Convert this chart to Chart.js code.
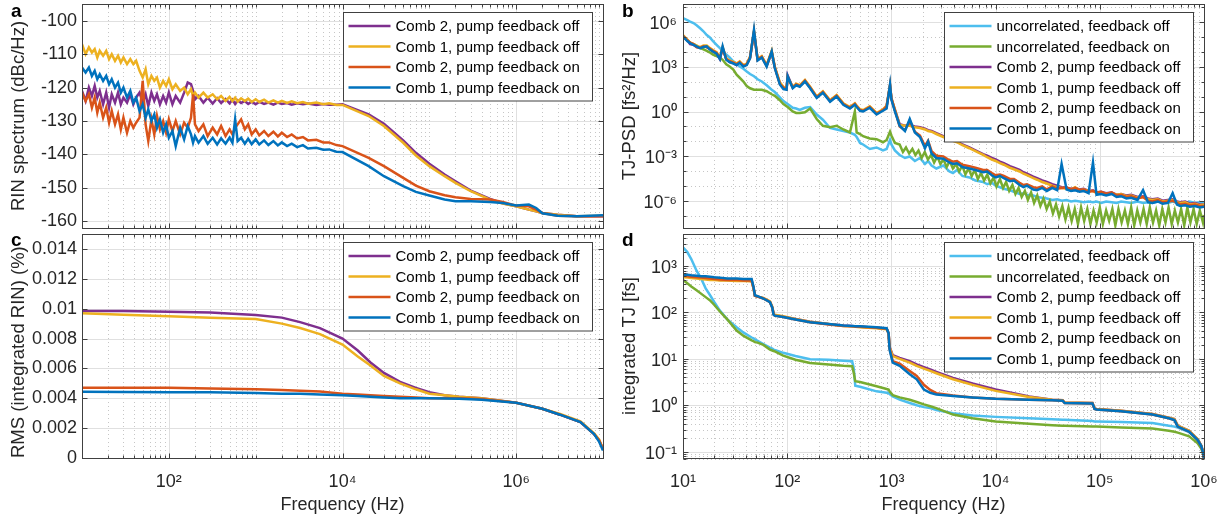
<!DOCTYPE html>
<html>
<head>
<meta charset="utf-8">
<title>RIN and timing jitter of the two combs</title>
<script src="https://cdn.jsdelivr.net/npm/chart.js@4.4.1/dist/chart.umd.min.js"></script>
<style>
    body { margin: 0; background: #fff; }
    #wrap { position: relative; width: 1231px; height: 521px; overflow: hidden; font-family: Helvetica, Arial, 'Liberation Sans', sans-serif; }
    #wrap canvas { position: absolute; }
    .tag { position: absolute; font-weight: bold; font-size: 19px; line-height: 1; color: #000; }
</style>
</head>
<body>
<div id="wrap">
    <canvas id="rinChart" width="615" height="232" style="left:0;top:0"></canvas>
    <canvas id="psdChart" width="616" height="232" style="left:615px;top:0"></canvas>
    <canvas id="rmsChart" width="615" height="291" style="left:0;top:230px"></canvas>
    <canvas id="tjChart" width="616" height="291" style="left:615px;top:230px"></canvas>
    <div class="tag" style="left:11px;top:1px">a</div>
    <div class="tag" style="left:622px;top:1px">b</div>
    <div class="tag" style="left:11px;top:230px">c</div>
    <div class="tag" style="left:622px;top:230px">d</div>
</div>
<script>
/* ================================================================
   DATA
   ================================================================ */

// a: RIN spectrum (dBc/Hz)
const freqA = [10, 11, 12, 13, 14, 15, 16, 17.5, 19, 20.5,
    22, 24, 26, 28, 30, 33, 36, 39, 42, 46,
    50, 54, 58, 63, 68, 73, 79, 86, 93, 100,
    110, 120, 135, 150, 165, 180, 190, 200, 220, 250,
    280, 320, 360, 400, 450, 500, 540, 580, 620, 680,
    750, 820, 900, 1000, 1100, 1250, 1400, 1600, 1800, 2000,
    2300, 2600, 3000, 3500, 4000, 5000, 6000, 7000, 8500, 1e4,
    2e4, 3e4, 5e4, 7e4, 1e5, 1.5e5, 2e5, 3e5, 5e5, 7e5,
    1e6, 1.4e6, 1.7e6, 2e6, 3e6, 5e6, 1e7];
const rinComb2Off = [-121, -124, -120, -122.5, -119.5, -123, -121, -125, -121.5, -126,
    -122, -124.5, -121.5, -125, -123, -124.5, -122, -125, -123, -121.5,
    -124.5, -122, -125.5, -121.5, -124, -122, -125, -122.5, -124.5, -121.5,
    -125, -122.5, -124.5, -121.5, -118.5, -119, -121, -123.5, -122.5, -124.5,
    -123, -124.8, -123.2, -124.6, -123.4, -124.7, -123.6, -124.9, -123.8, -124.6,
    -124, -124.9, -124.2, -125, -124.3, -124.9, -124.5, -125.1, -124.5, -124.9,
    -124.6, -125.1, -124.7, -125, -124.8, -125.2, -124.9, -125.1, -125.1, -125,
    -128, -130.8, -135.8, -139.5, -142.8, -146, -148, -150.8, -153.3, -154.6,
    -155.5, -156.5, -157, -157.5, -158, -158.5, -158.5];
const rinComb1Off = [-107, -110, -108, -109.5, -108.5, -111, -109, -110.5, -109, -111.5,
    -110, -112, -110.5, -112.5, -111, -113, -111.5, -113, -112, -115,
    -117, -114.5, -119, -116.5, -118, -117, -120, -118, -119.5, -117.5,
    -120.5, -119, -121, -120, -122, -120.5, -122.5, -121.5, -123, -121.5,
    -123, -122, -123.5, -122.5, -124, -122.8, -124, -123, -124.2, -123.2,
    -124, -123.3, -124.3, -123.5, -124.3, -123.6, -124.5, -123.8, -124.5, -124,
    -124.6, -124.1, -124.7, -124.3, -124.8, -124.5, -125, -124.7, -125.2, -125.2,
    -128.5, -131.5, -136.5, -140.3, -143.5, -146.5, -148.5, -151, -153.5, -154.7,
    -155.5, -156.5, -157, -157.5, -158, -158.5, -158.3];
const rinComb2On = [-121.5, -124, -122, -126, -123, -127.5, -124.5, -129, -126, -130.5,
    -127, -131, -128, -132.5, -129, -133.5, -130, -132, -130.5, -129,
    -118, -131, -136, -129.5, -134, -128.5, -132.5, -130, -133.5, -129.5,
    -133, -130, -134, -130.5, -132, -129, -122, -131, -133, -131,
    -134.5, -132, -134, -131.5, -134.5, -132.5, -134, -132, -131, -129.5,
    -132.5, -131, -134, -132.5, -134.3, -133, -134.5, -133.2, -134.6, -133.5,
    -134.8, -134, -135.2, -134.8, -135.8, -135.6, -136.4, -136.4, -137.2, -137.5,
    -141, -143.5, -147, -149.3, -151, -152.2, -152.8, -153.3, -153.5, -154.2,
    -155.3, -155.5, -156.5, -157.5, -158.3, -158.5, -158.5];
const rinComb1On = [-114, -115.5, -114, -116.5, -115, -117.5, -116, -118, -116.5, -119,
    -117.5, -120, -118.5, -121.5, -120, -123, -121, -124.5, -123, -127,
    -125, -129, -126.5, -130, -128, -132, -129.5, -133.5, -131, -135,
    -133, -137.5, -132, -135.5, -131.5, -134, -136.5, -134.5, -136.5, -134.5,
    -136.8, -135, -137, -135.2, -136.8, -135, -136.5, -129.5, -136, -135,
    -136.8, -135.3, -136.9, -135.5, -137, -135.8, -137.2, -136, -137.3, -136.4,
    -137.5, -136.8, -137.8, -137.2, -138.2, -138, -138.6, -138.5, -139.2, -139.3,
    -143.5, -146.5, -149.5, -151.2, -152.3, -153.5, -154, -154, -154.2, -154.5,
    -155.3, -155, -156, -157.6, -158.3, -158.5, -158.2];

// c: integrated RIN (%)
const freqC = [10, 30, 100, 300, 1000, 2000, 3250, 5500, 1e4, 1.5e4,
    2.1e4, 3e4, 4.6e4, 7e4, 1e5, 1.5e5, 2.2e5, 4e5, 1e6, 2e6,
    3.2e6, 5.5e6, 7.9e6, 9e6, 1e7];
const rmsComb2Off = [0.00985, 0.00985, 0.0098, 0.00975, 0.00958, 0.0094, 0.0091, 0.0087, 0.0080, 0.0072,
    0.0064, 0.0057, 0.0051, 0.0047, 0.0044, 0.0042, 0.0041, 0.0040, 0.0037, 0.0033,
    0.0029, 0.0024, 0.0016, 0.0012, 0.0006];
const rmsComb1Off = [0.0097, 0.0096, 0.0095, 0.0094, 0.0093, 0.0090, 0.0087, 0.0083, 0.0076, 0.0068,
    0.0062, 0.0055, 0.0050, 0.0046, 0.0043, 0.0042, 0.0041, 0.0040, 0.0037, 0.0033,
    0.00295, 0.00245, 0.00165, 0.00125, 0.0006];
const rmsComb2On = [0.0047, 0.0047, 0.0047, 0.00465, 0.0046, 0.00455, 0.0045, 0.00445, 0.0043, 0.00425,
    0.0042, 0.00415, 0.0041, 0.00405, 0.0040, 0.0040, 0.0040, 0.00395, 0.0037, 0.0033,
    0.0029, 0.0024, 0.0016, 0.0012, 0.0006];
const rmsComb1On = [0.00443, 0.00442, 0.0044, 0.0044, 0.00435, 0.0043, 0.0043, 0.00425, 0.0042, 0.00415,
    0.0041, 0.00405, 0.0040, 0.0040, 0.0040, 0.00398, 0.00396, 0.0039, 0.0037, 0.0033,
    0.0029, 0.0024, 0.0016, 0.0011, 0.0005];

// b: timing-jitter PSD, stored as log10 of fs^2/Hz
const freqBLow = [10, 11, 11.7, 12.6, 13.5, 14.6, 15.7, 16.9, 18, 19.4,
    21, 22.6, 24, 26, 28, 30.4, 32.7, 35, 38, 40.9,
    44, 48, 52, 57, 63.5, 71, 76, 85, 92, 98.6,
    101, 113, 122, 132, 148, 166, 192, 220, 258, 298,
    346, 400, 446, 464, 500, 535, 620, 720, 830, 900,
    970, 1000, 1080];
const freqBHigh = [1200, 1350, 1500, 1680, 1880, 2100, 2250, 2430, 2700, 3150,
    3600, 3900, 4260, 4800, 5600, 6400, 7600, 8300, 9200, 1e4,
    1.1e4, 1.2e4, 1.37e4, 1.5e4, 1.7e4, 1.85e4, 2e4, 2.3e4, 2.5e4, 2.8e4,
    3.1e4, 3.5e4, 3.9e4, 4.3e4, 4.8e4, 5.3e4, 5.8e4, 6.4e4, 7e4, 7.8e4,
    8.6e4, 9.3e4, 1.03e5, 1.15e5, 1.3e5, 1.45e5, 1.6e5, 1.8e5, 2e5, 2.3e5,
    2.6e5, 2.9e5, 3.2e5, 3.6e5, 4e5, 4.5e5, 5e5, 5.5e5, 5.9e5, 6.6e5,
    7.3e5, 8.2e5, 9.1e5, 1e6];
// the "uncorrelated, feedback on" trace is a wide noise band above 1 kHz: finer sampling there
const freqBDense = [1200, 1290, 1380, 1480, 1590, 1700, 1820, 1950, 2090, 2240,
    2400, 2570, 2760, 2950, 3160, 3390, 3630, 3890, 4170, 4470,
    4790, 5130, 5500, 5890, 6310, 6760, 7240, 7760, 8320, 8910,
    9550, 1.02e4, 1.1e4, 1.18e4, 1.26e4, 1.35e4, 1.45e4, 1.55e4, 1.66e4, 1.78e4,
    1.91e4, 2.04e4, 2.19e4, 2.34e4, 2.51e4, 2.69e4, 2.88e4, 3.09e4, 3.31e4, 3.55e4,
    3.8e4, 4.07e4, 4.37e4, 4.68e4, 5.01e4, 5.37e4, 5.75e4, 6.17e4, 6.61e4, 7.08e4,
    7.59e4, 8.13e4, 8.71e4, 9.33e4, 1e5, 1.07e5, 1.15e5, 1.23e5, 1.32e5, 1.41e5,
    1.51e5, 1.62e5, 1.74e5, 1.86e5, 2e5, 2.14e5, 2.29e5, 2.45e5, 2.63e5, 2.82e5,
    3.02e5, 3.24e5, 3.47e5, 3.72e5, 3.98e5, 4.27e5, 4.57e5, 4.9e5, 5.25e5, 5.62e5,
    6.03e5, 6.46e5, 6.92e5, 7.41e5, 7.94e5, 8.51e5, 9.12e5, 9.77e5, 1e6];
const freqB = freqBLow.concat(freqBHigh);
const freqBGreen = freqBLow.concat(freqBDense);

const psdUncorrOffLog = [6.22, 6.1, 6.0, 5.9, 5.75, 5.55, 5.35, 5.1, 4.95, 4.7,
    4.45, 4.22, 4.05, 3.8, 3.6, 3.35, 3.2, 3.0, 2.85, 2.67,
    2.5, 2.35, 2.15, 2.0, 1.75, 1.45, 1.3, 0.95, 0.7, 0.55,
    0.5, 0.25, 0.2, 0.1, 0.25, 0.3, -0.2, -0.55, -1.1, -1.2,
    -1.3, -1.4, -1.55, -1.7, -2.1, -2.2, -2.5, -2.4, -2.6, -2.5,
    -1.9, -2.2, -2.6,
    -2.9, -3.1, -3.0, -3.3, -3.1, -3.5, -3.3, -3.6, -3.8, -3.6,
    -4.0, -4.1, -3.9, -4.3, -4.4, -4.6, -4.7, -4.85, -4.75, -4.95,
    -5.05, -5.15, -5.25, -5.35, -5.5, -5.45, -5.55, -5.6, -5.7, -5.75,
    -5.8, -5.9, -5.85, -5.95, -5.9, -6.0, -5.95, -6.0, -6.05, -6.0,
    -6.05, -6.0, -6.1, -6.0, -6.05, -6.1, -6.0, -6.05, -6.1, -6.0,
    -6.1, -6.05, -6.1, -6.0, -6.05, -6.1, -6.0, -6.1, -6.05, -6.1,
    -6.0, -6.1, -6.05, -6.1];
const psdUncorrOnLog = [5.0, 4.75, 4.6, 4.5, 4.4, 4.22, 4.15, 4.05, 3.95, 3.8,
    3.7, 3.6, 3.45, 3.15, 3.0, 2.8, 2.45, 2.25, 2.0, 1.7,
    1.55, 1.45, 1.45, 1.45, 1.35, 1.15, 1.05, 0.75, 0.5, 0.35,
    0.3, 0.0, -0.1, -0.1, -0.05, 0.2, -0.5, -0.95, -1.05, -0.95,
    -1.2, -1.4, 0.0, -1.4, -1.5, -1.65, -1.8, -1.85, -2.05, -1.9,
    -1.35, -1.6, -2.1,
    -2.2, -2.7, -2.4, -2.8, -2.5, -2.9, -2.6, -3.1, -2.7, -3.2,
    -2.9, -3.4, -3.0, -3.5, -3.2, -3.7, -3.3, -3.8, -3.5, -4.0,
    -3.6, -4.2, -3.8, -4.3, -3.9, -4.5, -4.1, -4.6, -4.2, -4.8,
    -4.4, -5.0, -4.5, -5.1, -4.7, -5.3, -4.9, -5.5, -5.1, -5.7,
    -5.3, -5.9, -5.4, -6.1, -5.6, -6.3, -5.8, -6.5, -6.0, -6.8,
    -6.2, -7.0, -6.3, -7.2, -6.4, -7.3, -6.5, -7.5, -6.4, -7.3,
    -6.5, -7.5, -6.6, -7.4, -6.4, -7.5, -6.6, -7.3, -6.5, -7.6,
    -6.5, -7.4, -6.6, -7.5, -6.4, -7.6, -6.6, -7.4, -6.5, -7.5,
    -6.4, -7.4, -6.6, -7.6, -6.5, -7.4, -6.4, -7.5, -6.6, -7.4,
    -6.5, -7.6, -6.4, -7.4, -6.5, -7.5, -6.6, -7.4, -6.9];
const psdComb2OffLog = [5.0, 4.75, 4.5, 4.45, 4.3, 4.25, 4.35, 4.3, 4.2, 4.0,
    3.9, 3.5, 4.25, 3.5, 3.3, 3.25, 3.1, 3.3, 3.05, 3.15,
    3.6, 5.3, 3.45, 3.65, 3.05, 4.0, 2.95, 1.9, 1.6, 1.5,
    2.4, 1.6, 1.8, 1.7, 2.05, 1.6, 0.95, 1.3, 0.7, 1.05,
    0.5, 0.25, 0.5, 0.35, 0.1, 0.05, 0.3, -0.15, 0.1, 0.35,
    1.75, 0.85, 0.1,
    -0.85, -0.95, -0.9, -1.0, -1.05, -1.15, -1.25, -1.3, -1.45, -1.65,
    -1.8, -1.9, -2.0, -2.2, -2.4, -2.6, -2.85, -2.95, -3.1, -3.2,
    -3.35, -3.45, -3.65, -3.75, -3.9, -4.05, -4.15, -4.35, -4.45, -4.6,
    -4.7, -4.85, -4.95, -5.05, -5.1, -5.15, -5.1, -5.2, -5.15, -5.3,
    -5.25, -5.4, -5.35, -5.45, -5.4, -5.55, -5.5, -5.6, -5.55, -5.7,
    -5.65, -5.8, -5.85, -5.8, -5.95, -5.9, -5.85, -6.0, -6.05, -6.0,
    -6.15, -6.1, -6.2, -6.2];
const psdComb1OffLog = [5.1, 4.8, 4.6, 4.5, 4.4, 4.3, 4.4, 4.4, 4.25, 4.1,
    3.95, 3.6, 4.3, 3.55, 3.4, 3.3, 3.2, 3.35, 3.1, 3.2,
    3.65, 5.35, 3.5, 3.7, 3.1, 4.05, 3.0, 1.95, 1.65, 1.55,
    2.3, 1.65, 1.85, 1.75, 2.1, 1.65, 1.0, 1.35, 0.75, 1.1,
    0.55, 0.3, 0.55, 0.4, 0.15, 0.1, 0.35, -0.1, 0.15, 0.4,
    1.75, 0.9, 0.15,
    -0.9, -0.95, -0.95, -1.05, -1.1, -1.2, -1.3, -1.35, -1.5, -1.7,
    -1.85, -1.95, -2.05, -2.25, -2.45, -2.65, -2.9, -3.05, -3.2, -3.3,
    -3.45, -3.55, -3.75, -3.85, -4.0, -4.15, -4.25, -4.45, -4.55, -4.7,
    -4.8, -4.95, -5.05, -5.1, -5.15, -5.2, -5.05, -5.25, -5.2, -5.3,
    -5.3, -5.45, -5.4, -5.5, -5.45, -5.55, -5.5, -5.65, -5.6, -5.75,
    -5.7, -5.85, -5.9, -5.85, -6.0, -5.95, -5.9, -6.05, -6.1, -6.05,
    -6.2, -6.15, -6.25, -6.2];
const psdComb2OnLog = [5.05, 4.75, 4.6, 4.5, 4.3, 4.25, 4.35, 4.3, 4.2, 4.05,
    3.9, 3.55, 4.2, 3.5, 3.35, 3.25, 3.15, 3.3, 3.05, 3.15,
    3.6, 5.3, 3.45, 3.65, 3.05, 3.95, 2.95, 1.85, 1.6, 1.5,
    2.3, 1.6, 1.8, 1.7, 2.05, 1.6, 0.95, 1.3, 0.7, 1.05,
    0.5, 0.25, 0.5, 0.35, 0.1, 0.05, 0.3, -0.15, 0.1, 0.35,
    1.7, 0.9, 0.1,
    -1.0, -1.25, -0.6, -1.35, -1.6, -2.3, -1.95, -2.65, -2.95, -3.0,
    -3.25, -3.35, -3.3, -3.55, -3.65, -3.75, -3.9, -3.9, -4.1, -4.25,
    -4.2, -4.3, -4.5, -4.5, -4.75, -4.9, -4.85, -5.05, -5.1, -5.0,
    -5.2, -5.0, -5.15, -5.1, -5.05, -5.2, -5.1, -5.25, -5.2, -5.35,
    -5.3, -5.4, -5.35, -5.5, -5.4, -5.6, -5.55, -5.7, -5.65, -5.8,
    -5.7, -5.95, -6.0, -5.9, -6.05, -6.0, -5.95, -6.1, -6.2, -6.15,
    -6.25, -6.2, -6.3, -6.3];
const psdComb1OnLog = [5.0, 4.7, 4.55, 4.45, 4.35, 4.22, 4.3, 4.35, 4.15, 4.0,
    3.85, 3.5, 4.35, 3.45, 3.3, 3.2, 3.1, 3.25, 3.0, 3.1,
    3.55, 5.45, 3.4, 3.6, 3.0, 4.0, 2.9, 1.8, 1.5, 1.45,
    2.35, 1.55, 1.75, 1.65, 2.0, 1.55, 0.9, 1.25, 0.65, 1.0,
    0.45, 0.2, 0.45, 0.3, 0.05, 0.0, 0.25, -0.2, 0.05, 0.2,
    1.8, 0.8, 0.0,
    -0.95, -1.3, -0.5, -1.4, -1.7, -2.45, -2.0, -2.8, -3.1, -3.15,
    -3.4, -3.5, -3.45, -3.7, -3.8, -3.9, -4.05, -4.0, -4.25, -4.4,
    -4.3, -4.45, -4.65, -4.6, -4.9, -5.05, -4.95, -5.2, -5.25, -5.1,
    -5.3, -5.1, -5.25, -3.5, -5.2, -5.3, -5.25, -5.35, -5.3, -5.45,
    -3.4, -5.55, -5.5, -5.6, -5.5, -5.7, -5.65, -5.8, -5.75, -5.9,
    -5.25, -6.05, -6.1, -6.0, -6.15, -6.1, -5.45, -6.2, -6.3, -6.25,
    -6.35, -6.3, -6.4, -6.35];

// d: integrated timing jitter, stored as log10 of fs
const freqD = [10, 11, 12, 13.5, 15, 16.5, 18.2, 20, 22.6, 26.6,
    32.7, 37.9, 45.6, 47.5, 49, 52, 59, 68.4, 72, 74,
    76, 91.6, 120, 166, 250, 346, 420, 435, 450, 500,
    720, 900, 940, 960, 1030, 1200, 1500, 1750, 2050, 2360,
    2700, 3900, 6000, 1e4, 2.1e4, 3.5e4, 4.4e4, 4.6e4, 8.5e4, 8.9e4,
    9.3e4, 1.6e5, 3.2e5, 4.6e5, 5.2e5, 5.6e5, 7.2e5, 8.7e5, 9.4e5, 9.8e5,
    1e6];
const tjUncorrOffLog = [3.40, 3.30, 3.15, 2.90, 2.72, 2.52, 2.37, 2.22, 2.04, 1.85,
    1.68, 1.57, 1.46, 1.44, 1.42, 1.39, 1.32, 1.24, 1.22, 1.20,
    1.19, 1.13, 1.06, 0.99, 0.98, 0.96, 0.95, 0.80, 0.42, 0.40,
    0.30, 0.27, 0.26, 0.24, 0.19, 0.12, 0.05, 0.00, -0.04, -0.06,
    -0.10, -0.17, -0.22, -0.25, -0.28, -0.30, -0.31, -0.31, -0.34, -0.35,
    -0.35, -0.36, -0.38, -0.44, -0.46, -0.48, -0.58, -0.74, -0.86, -1.0,
    -1.14];
const tjUncorrOnLog = [2.70, 2.63, 2.56, 2.48, 2.40, 2.33, 2.26, 2.16, 2.02, 1.85,
    1.61, 1.50, 1.40, 1.38, 1.36, 1.35, 1.30, 1.20, 1.18, 1.17,
    1.16, 1.07, 0.98, 0.91, 0.88, 0.85, 0.84, 0.70, 0.52, 0.50,
    0.41, 0.35, 0.34, 0.30, 0.22, 0.17, 0.12, 0.07, 0.02, -0.02,
    -0.06, -0.20, -0.28, -0.35, -0.40, -0.43, -0.44, -0.44, -0.46, -0.46,
    -0.46, -0.48, -0.50, -0.55, -0.57, -0.59, -0.67, -0.82, -0.93, -1.05,
    -1.14];
const tjComb2OffLog = [2.80, 2.78, 2.77, 2.75, 2.74, 2.73, 2.72, 2.71, 2.70, 2.70,
    2.69, 2.69, 2.68, 2.53, 2.36, 2.34, 2.31, 2.23, 2.11, 1.97,
    1.94, 1.91, 1.86, 1.80, 1.75, 1.72, 1.71, 1.70, 1.70, 1.69,
    1.67, 1.65, 1.55, 1.26, 1.08, 1.02, 0.95, 0.88, 0.82, 0.77,
    0.72, 0.59, 0.47, 0.34, 0.19, 0.12, 0.11, 0.06, 0.05, -0.07,
    -0.08, -0.12, -0.19, -0.27, -0.30, -0.44, -0.55, -0.73, -0.87, -1.0,
    -1.14];
const tjComb1OffLog = [2.76, 2.75, 2.74, 2.73, 2.72, 2.71, 2.70, 2.70, 2.69, 2.69,
    2.68, 2.68, 2.67, 2.52, 2.36, 2.34, 2.31, 2.24, 2.12, 1.98,
    1.95, 1.92, 1.86, 1.80, 1.75, 1.71, 1.70, 1.69, 1.69, 1.68,
    1.66, 1.64, 1.55, 1.25, 1.06, 1.00, 0.92, 0.85, 0.79, 0.74,
    0.69, 0.56, 0.44, 0.31, 0.18, 0.12, 0.11, 0.06, 0.05, -0.07,
    -0.08, -0.12, -0.19, -0.27, -0.30, -0.44, -0.55, -0.73, -0.87, -1.0,
    -1.14];
const tjComb2OnLog = [2.79, 2.78, 2.77, 2.76, 2.75, 2.74, 2.73, 2.72, 2.71, 2.70,
    2.70, 2.69, 2.69, 2.53, 2.36, 2.34, 2.30, 2.22, 2.10, 1.96,
    1.93, 1.90, 1.85, 1.79, 1.74, 1.71, 1.70, 1.70, 1.69, 1.69,
    1.67, 1.65, 1.55, 1.22, 0.95, 0.90, 0.74, 0.63, 0.44, 0.33,
    0.26, 0.21, 0.17, 0.14, 0.12, 0.11, 0.10, 0.05, 0.04, -0.08,
    -0.09, -0.13, -0.20, -0.28, -0.32, -0.46, -0.57, -0.75, -0.88, -1.02,
    -1.14];
const tjComb1OnLog = [2.82, 2.81, 2.80, 2.79, 2.78, 2.78, 2.77, 2.76, 2.75, 2.73,
    2.73, 2.72, 2.72, 2.55, 2.37, 2.35, 2.30, 2.22, 2.10, 1.95,
    1.93, 1.90, 1.85, 1.79, 1.75, 1.72, 1.71, 1.71, 1.70, 1.70,
    1.68, 1.66, 1.55, 1.20, 0.92, 0.85, 0.67, 0.56, 0.34, 0.27,
    0.23, 0.20, 0.17, 0.14, 0.12, 0.11, 0.10, 0.05, 0.04, -0.08,
    -0.09, -0.13, -0.20, -0.28, -0.32, -0.46, -0.57, -0.75, -0.88, -1.02,
    -1.14];

// tick labels
const rinYTicks = [-160, -150, -140, -130, -120, -110, -100];
const rmsYTicks = [0, 0.002, 0.004, 0.006, 0.008, 0.01, 0.012, 0.014];
const leftXTicks = [1e2, 1e4, 1e6];
const rightXTicks = [1e1, 1e2, 1e3, 1e4, 1e5, 1e6];
const psdYTicks = [1e-6, 1e-3, 1e0, 1e3, 1e6];
const psdYMinor = [1e-7, 1e-5, 1e-4, 1e-2, 1e-1, 1e1, 1e2, 1e4, 1e5, 1e7];
const tjYTicks = [1e-1, 1e0, 1e1, 1e2, 1e3];

const LBL_COMB2_OFF = 'Comb 2, pump feedback off';
const LBL_COMB1_OFF = 'Comb 1, pump feedback off';
const LBL_COMB2_ON = 'Comb 2, pump feedback on';
const LBL_COMB1_ON = 'Comb 1, pump feedback on';

/* ================================================================
   STYLE
   ================================================================ */
const FONT = "Helvetica, Arial, 'Liberation Sans', sans-serif";
const INK = '#262626';
const C_BLUE = '#0072BD', C_RED = '#D95319', C_YELLOW = '#EDB120',
      C_PURPLE = '#7E2F8E', C_GREEN = '#77AC30', C_CYAN = '#4DBEEE';

const SUP = { '-': '\u207B', '0': '\u2070', '1': '\u00B9', '2': '\u00B2', '3': '\u00B3',
    '4': '\u2074', '5': '\u2075', '6': '\u2076', '7': '\u2077', '8': '\u2078', '9': '\u2079' };
function pow10Label(v) {
    const e = String(Math.round(Math.log10(v)));
    return '10' + e.split('').map(ch => SUP[ch]).join('');
}

// minor log ticks (2..9 of every decade, plus unlabeled decades)
function logMinor(lo, hi, majors) {
    const out = [];
    for (let e = Math.floor(Math.log10(lo)); e <= Math.ceil(Math.log10(hi)); e++) {
        for (let m = 1; m <= 9; m++) {
            const v = m * Math.pow(10, e);
            if (v < lo * 0.999 || v > hi * 1.001) continue;
            if (majors.some(t => Math.abs(t - v) / v < 1e-6)) continue;
            out.push(v);
        }
    }
    return out;
}

function line(label, xs, ys, color, order) {
    return {
        label, order,
        data: xs.map((x, i) => ({ x, y: ys[i] })),
        borderColor: color, backgroundColor: color,
        borderWidth: 2.5, pointRadius: 0, tension: 0, fill: false
    };
}
const fromLog = arr => arr.map(e => Math.pow(10, e));

// keep the plot box exactly where the axes say, without label overhang padding
const fixY = w => s => { s.width = w; s.paddingTop = 0; s.paddingBottom = 0; };
const fixX = h => s => { s.height = h; s.paddingLeft = 0; s.paddingRight = 0; };

/* ================================================================
   MATLAB-LIKE AXES: grid, box, inward ticks, legend
   ================================================================ */
const matlabAxes = {
    id: 'matlabAxes',
    beforeDatasetsDraw(chart, args, o) {
        const { ctx, chartArea: a } = chart;
        const { x, y } = chart.scales;
        ctx.save();
        ctx.lineWidth = 1;
        ctx.strokeStyle = '#c6c6c6';
        ctx.setLineDash([1, 3]);
        ctx.beginPath();
        o.xMinor.forEach(v => { const p = Math.round(x.getPixelForValue(v)) + 0.5; ctx.moveTo(p, a.top); ctx.lineTo(p, a.bottom); });
        o.yMinor.forEach(v => { const p = Math.round(y.getPixelForValue(v)) + 0.5; ctx.moveTo(a.left, p); ctx.lineTo(a.right, p); });
        ctx.stroke();
        ctx.setLineDash([]);
        ctx.strokeStyle = '#e0e0e0';
        ctx.beginPath();
        o.xMajor.forEach(v => { const p = Math.round(x.getPixelForValue(v)) + 0.5; ctx.moveTo(p, a.top); ctx.lineTo(p, a.bottom); });
        o.yMajor.forEach(v => { const p = Math.round(y.getPixelForValue(v)) + 0.5; ctx.moveTo(a.left, p); ctx.lineTo(a.right, p); });
        ctx.stroke();
        ctx.restore();
    },
    afterDatasetsDraw(chart, args, o) {
        const { ctx, chartArea: a } = chart;
        const { x, y } = chart.scales;
        const L = Math.round(a.left) + 0.5, R = Math.round(a.right) + 0.5;
        const T = Math.round(a.top) + 0.5, B = Math.round(a.bottom) + 0.5;
        ctx.save();
        ctx.strokeStyle = '#404040';
        ctx.lineWidth = 1;
        ctx.beginPath();
        const xt = (list, len) => list.forEach(v => {
            const p = Math.round(x.getPixelForValue(v)) + 0.5;
            ctx.moveTo(p, B); ctx.lineTo(p, B - len); ctx.moveTo(p, T); ctx.lineTo(p, T + len);
        });
        const yt = (list, len) => list.forEach(v => {
            const p = Math.round(y.getPixelForValue(v)) + 0.5;
            ctx.moveTo(L, p); ctx.lineTo(L + len, p); ctx.moveTo(R, p); ctx.lineTo(R - len, p);
        });
        xt(o.xMajor, 5); xt(o.xMinor, 3); yt(o.yMajor, 5); yt(o.yMinor, 3);
        ctx.stroke();
        ctx.strokeRect(L, T, R - L, B - T);

        // legend box in the upper right corner
        const sets = chart.data.datasets;
        const w = 249, rowH = 20.5, h = sets.length * rowH + 6.5;
        const bx = Math.round(a.right - 11 - w) + 0.5, by = Math.round(a.top + 8) + 0.5;
        ctx.fillStyle = '#fff';
        ctx.fillRect(bx, by, w, h);
        ctx.strokeStyle = '#404040';
        ctx.strokeRect(bx, by, w, h);
        ctx.font = '15px ' + FONT;
        ctx.textBaseline = 'middle';
        sets.forEach((ds, i) => {
            const cy = by + 13.5 + i * rowH;
            ctx.strokeStyle = ds.borderColor;
            ctx.lineWidth = 2.5;
            ctx.beginPath(); ctx.moveTo(bx + 5, cy); ctx.lineTo(bx + 47, cy); ctx.stroke();
            ctx.fillStyle = '#000';
            ctx.fillText(ds.label, bx + 52, cy + 1);
        });
        ctx.restore();
    }
};
Chart.register(matlabAxes);

function baseOptions(padding, axes, scales) {
    return {
        responsive: false, animation: false, devicePixelRatio: 1, events: [],
        layout: { padding },
        plugins: { legend: { display: false }, tooltip: { enabled: false }, matlabAxes: axes },
        scales
    };
}
const tickFont = { size: 18, family: FONT };
const titleFont = { size: 18.5, family: FONT };
const noGrid = { display: false, drawTicks: false };

/* ================================================================
   a. RIN spectrum
   ================================================================ */
new Chart(document.getElementById('rinChart'), {
    type: 'line',
    data: { datasets: [
        line(LBL_COMB2_OFF, freqA, rinComb2Off, C_PURPLE, 4),
        line(LBL_COMB1_OFF, freqA, rinComb1Off, C_YELLOW, 3),
        line(LBL_COMB2_ON, freqA, rinComb2On, C_RED, 2),
        line(LBL_COMB1_ON, freqA, rinComb1On, C_BLUE, 1)
    ] },
    options: baseOptions({ left: 0, top: 4, right: 12, bottom: 0 },
        { xMajor: leftXTicks, xMinor: logMinor(10, 1e7, leftXTicks), yMajor: rinYTicks, yMinor: [] },
        {
            x: { type: 'logarithmic', min: 10, max: 1e7, afterFit: fixX(4),
                 grid: noGrid, border: { display: false }, ticks: { display: false } },
            y: { type: 'linear', min: -162, max: -95,
                 afterBuildTicks: s => { s.ticks = rinYTicks.map(v => ({ value: v })); },
                 afterFit: fixY(82),
                 grid: noGrid, border: { display: false },
                 ticks: { color: INK, font: tickFont, padding: 5 },
                 title: { display: true, text: 'RIN spectrum (dBc/Hz)', color: INK, font: titleFont, padding: { top: 8, bottom: 0 } } }
        })
});

/* ================================================================
   c. integrated RIN
   ================================================================ */
new Chart(document.getElementById('rmsChart'), {
    type: 'line',
    data: { datasets: [
        line(LBL_COMB2_OFF, freqC, rmsComb2Off, C_PURPLE, 4),
        line(LBL_COMB1_OFF, freqC, rmsComb1Off, C_YELLOW, 3),
        line(LBL_COMB2_ON, freqC, rmsComb2On, C_RED, 2),
        line(LBL_COMB1_ON, freqC, rmsComb1On, C_BLUE, 1)
    ] },
    options: baseOptions({ left: 0, top: 4, right: 12, bottom: 0 },
        { xMajor: leftXTicks, xMinor: logMinor(10, 1e7, leftXTicks), yMajor: rmsYTicks, yMinor: [] },
        {
            x: { type: 'logarithmic', min: 10, max: 1e7,
                 afterBuildTicks: s => { s.ticks = leftXTicks.map(v => ({ value: v })); },
                 afterFit: fixX(63),
                 grid: noGrid, border: { display: false },
                 ticks: { color: INK, font: tickFont, padding: 13, autoSkip: false, maxRotation: 0, callback: v => pow10Label(v) },
                 title: { display: true, text: 'Frequency (Hz)', color: INK, font: tickFont, padding: { top: 0, bottom: 5 } } },
            y: { type: 'linear', min: 0, max: 0.015,
                 afterBuildTicks: s => { s.ticks = rmsYTicks.map(v => ({ value: v })); },
                 afterFit: fixY(82),
                 grid: noGrid, border: { display: false },
                 ticks: { color: INK, font: tickFont, padding: 5, callback: v => String(+v.toFixed(3)) },
                 title: { display: true, align: 'start', text: 'RMS (integrated RIN) (%)', color: INK, font: titleFont, padding: { top: 8, bottom: 0 } } }
        })
});

/* ================================================================
   b. timing-jitter PSD
   ================================================================ */
new Chart(document.getElementById('psdChart'), {
    type: 'line',
    data: { datasets: [
        line('uncorrelated, feedback off', freqB, fromLog(psdUncorrOffLog), C_CYAN, 6),
        line('uncorrelated, feedback on', freqBGreen, fromLog(psdUncorrOnLog), C_GREEN, 5),
        line(LBL_COMB2_OFF, freqB, fromLog(psdComb2OffLog), C_PURPLE, 4),
        line(LBL_COMB1_OFF, freqB, fromLog(psdComb1OffLog), C_YELLOW, 3),
        line(LBL_COMB2_ON, freqB, fromLog(psdComb2OnLog), C_RED, 2),
        line(LBL_COMB1_ON, freqB, fromLog(psdComb1OnLog), C_BLUE, 1)
    ] },
    options: baseOptions({ left: 0, top: 4, right: 27, bottom: 0 },
        { xMajor: rightXTicks, xMinor: logMinor(10, 1e6, rightXTicks), yMajor: psdYTicks, yMinor: psdYMinor },
        {
            x: { type: 'logarithmic', min: 10, max: 1e6, afterFit: fixX(4),
                 grid: noGrid, border: { display: false }, ticks: { display: false } },
            y: { type: 'logarithmic', min: Math.pow(10, -7.77), max: Math.pow(10, 7.17),
                 afterBuildTicks: s => { s.ticks = psdYTicks.map(v => ({ value: v })); },
                 afterFit: fixY(68),
                 grid: noGrid, border: { display: false },
                 ticks: { color: INK, font: tickFont, padding: 6, labelOffset: 2, callback: v => pow10Label(v) },
                 title: { display: true, text: 'TJ-PSD [fs\u00B2/Hz]', color: INK, font: titleFont, padding: { top: 4, bottom: 0 } } }
        })
});

/* ================================================================
   d. integrated timing jitter
   ================================================================ */
new Chart(document.getElementById('tjChart'), {
    type: 'line',
    data: { datasets: [
        line('uncorrelated, feedback off', freqD, fromLog(tjUncorrOffLog), C_CYAN, 6),
        line('uncorrelated, feedback on', freqD, fromLog(tjUncorrOnLog), C_GREEN, 5),
        line(LBL_COMB2_OFF, freqD, fromLog(tjComb2OffLog), C_PURPLE, 4),
        line(LBL_COMB1_OFF, freqD, fromLog(tjComb1OffLog), C_YELLOW, 3),
        line(LBL_COMB2_ON, freqD, fromLog(tjComb2OnLog), C_RED, 2),
        line(LBL_COMB1_ON, freqD, fromLog(tjComb1OnLog), C_BLUE, 1)
    ] },
    options: baseOptions({ left: 0, top: 4, right: 27, bottom: 0 },
        { xMajor: rightXTicks, xMinor: logMinor(10, 1e6, rightXTicks), yMajor: tjYTicks, yMinor: logMinor(0.07, 5000, tjYTicks) },
        {
            x: { type: 'logarithmic', min: 10, max: 1e6,
                 afterBuildTicks: s => { s.ticks = rightXTicks.map(v => ({ value: v })); },
                 afterFit: fixX(63),
                 grid: noGrid, border: { display: false },
                 ticks: { color: INK, font: tickFont, padding: 13, autoSkip: false, maxRotation: 0, callback: v => pow10Label(v) },
                 title: { display: true, text: 'Frequency (Hz)', color: INK, font: tickFont, padding: { top: 0, bottom: 5 } } },
            y: { type: 'logarithmic', min: Math.pow(10, -1.136), max: Math.pow(10, 3.69),
                 afterBuildTicks: s => { s.ticks = tjYTicks.map(v => ({ value: v })); },
                 afterFit: fixY(68),
                 grid: noGrid, border: { display: false },
                 ticks: { color: INK, font: tickFont, padding: 6, labelOffset: 2, callback: v => pow10Label(v) },
                 title: { display: true, text: 'integrated TJ [fs]', color: INK, font: titleFont, padding: { top: 4, bottom: 0 } } }
        })
});
</script>
</body>
</html>
